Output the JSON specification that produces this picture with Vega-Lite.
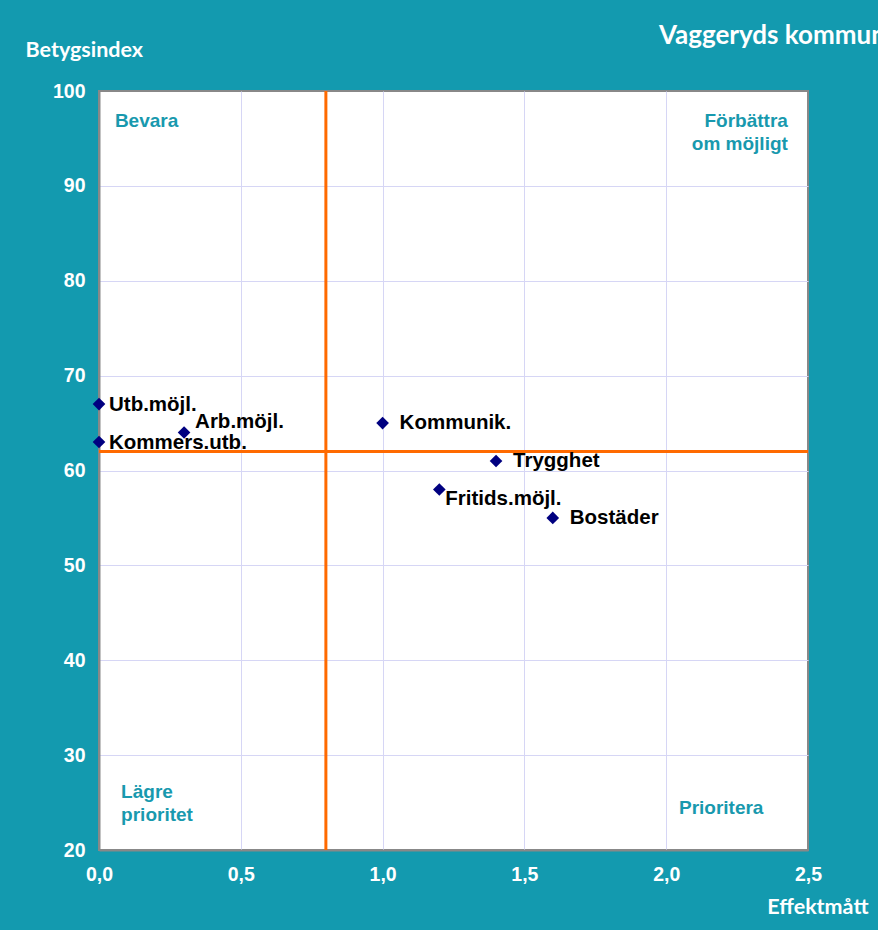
{
  "$schema": "https://vega.github.io/schema/vega-lite/v6.json",
  "width": 709,
  "height": 759,
  "autosize": {"type": "none"},
  "padding": {"left": 99, "top": 91, "right": 70, "bottom": 80},
  "background": "#139AAF",
  "title": {
    "text": "Vaggeryds kommun",
    "anchor": "start",
    "frame": "group",
    "dx": 560,
    "dy": 26,
    "offset": -5,
    "baseline": "alphabetic",
    "font": "Lato",
    "fontSize": 26,
    "fontWeight": "bold",
    "color": "white"
  },
  "config": {
    "view": {"fill": "white", "stroke": "#888888", "strokeWidth": 2},
    "axis": {
      "labelFont": "Liberation Sans",
      "labelFontSize": 19.5,
      "labelFontWeight": "bold",
      "labelColor": "white",
      "titleFont": "Lato",
      "titleFontSize": 21.5,
      "titleFontWeight": "bold",
      "titleColor": "white",
      "ticks": false,
      "domainColor": "#888888",
      "domainWidth": 2,
      "gridWidth": 1,
      "labelFlush": false,
      "labelOverlap": false
    }
  },
  "datasets": {
    "points": [
      {"name": "Utb.möjl.", "effekt": 0.0, "index": 67},
      {"name": "Kommers.utb.", "effekt": 0.0, "index": 63},
      {"name": "Arb.möjl.", "effekt": 0.3, "index": 64},
      {"name": "Kommunik.", "effekt": 1.0, "index": 65},
      {"name": "Trygghet", "effekt": 1.4, "index": 61},
      {"name": "Fritids.möjl.", "effekt": 1.2, "index": 58},
      {"name": "Bostäder", "effekt": 1.6, "index": 55}
    ],
    "quadLeft": [
      {"label": "Bevara", "effekt": 0.056, "index": 96.8},
      {"label": "Lägre\nprioritet", "effekt": 0.078, "index": 26.1},
      {"label": "Prioritera", "effekt": 2.045, "index": 24.4}
    ],
    "quadRight": [
      {"label": "Förbättra\nom möjligt", "effekt": 2.429, "index": 96.8}
    ]
  },
  "layer": [
    {
      "data": {"name": "points"},
      "mark": {"type": "point", "opacity": 0},
      "encoding": {
        "x": {
          "field": "effekt",
          "type": "quantitative",
          "scale": {"domain": [0, 2.5], "nice": false, "zero": false},
          "axis": {
            "values": [0, 0.5, 1, 1.5, 2, 2.5],
            "labelExpr": "replace(format(datum.value, '.1f'), '.', ',')",
            "labelBaseline": "middle",
            "labelPadding": 24,
            "gridColor": {"condition": {"test": "datum.value == 2.5 || datum.value == 0", "value": "transparent"}, "value": "#D6D6F5"},
            "title": "Effektmått",
            "titleAlign": "right",
            "titleAnchor": "start",
            "titleX": 769,
            "titleY": 57,
            "titleBaseline": "middle"
          }
        },
        "y": {
          "field": "index",
          "type": "quantitative",
          "scale": {"domain": [20, 100], "nice": false, "zero": false},
          "axis": {
            "values": [20, 30, 40, 50, 60, 70, 80, 90, 100],
            "labelPadding": 14,
            "gridColor": {"condition": {"test": "datum.value == 100 || datum.value == 20", "value": "transparent"}, "value": "#D6D6F5"},
            "title": "Betygsindex",
            "titleAngle": 0,
            "titleAlign": "left",
            "titleAnchor": "start",
            "titleX": -74,
            "titleY": -41,
            "titleBaseline": "middle"
          }
        }
      }
    },
    {
      "data": {"values": [{"v": 0.8}]},
      "mark": {"type": "rule", "color": "#FF6A00", "strokeWidth": 3},
      "encoding": {"x": {"field": "v", "type": "quantitative"}}
    },
    {
      "data": {"values": [{"v": 62}]},
      "mark": {"type": "rule", "color": "#FF6A00", "strokeWidth": 3},
      "encoding": {"y": {"field": "v", "type": "quantitative"}}
    },
    {
      "data": {"name": "points"},
      "mark": {"type": "point", "shape": "diamond", "filled": true, "color": "#000080", "size": 160, "opacity": 1},
      "encoding": {
        "x": {"field": "effekt", "type": "quantitative"},
        "y": {"field": "index", "type": "quantitative"}
      }
    },
    {
      "data": {"name": "points"},
      "transform": [{"filter": {"field": "name", "oneOf": ["Utb.möjl.", "Kommers.utb."]}}],
      "mark": {"type": "text", "align": "left", "baseline": "middle", "dx": 10, "dy": 1, "font": "Liberation Sans", "fontSize": 20.5, "fontWeight": "bold", "color": "black"},
      "encoding": {
        "x": {"field": "effekt", "type": "quantitative"},
        "y": {"field": "index", "type": "quantitative"},
        "text": {"field": "name"}
      }
    },
    {
      "data": {"name": "points"},
      "transform": [{"filter": {"field": "name", "oneOf": ["Arb.möjl."]}}],
      "mark": {"type": "text", "align": "left", "baseline": "middle", "dx": 11, "dy": -11, "font": "Liberation Sans", "fontSize": 20.5, "fontWeight": "bold", "color": "black"},
      "encoding": {
        "x": {"field": "effekt", "type": "quantitative"},
        "y": {"field": "index", "type": "quantitative"},
        "text": {"field": "name"}
      }
    },
    {
      "data": {"name": "points"},
      "transform": [{"filter": {"field": "name", "oneOf": ["Kommunik.", "Trygghet", "Bostäder"]}}],
      "mark": {"type": "text", "align": "left", "baseline": "middle", "dx": 17, "dy": 0, "font": "Liberation Sans", "fontSize": 20.5, "fontWeight": "bold", "color": "black"},
      "encoding": {
        "x": {"field": "effekt", "type": "quantitative"},
        "y": {"field": "index", "type": "quantitative"},
        "text": {"field": "name"}
      }
    },
    {
      "data": {"name": "points"},
      "transform": [{"filter": {"field": "name", "oneOf": ["Fritids.möjl."]}}],
      "mark": {"type": "text", "align": "left", "baseline": "middle", "dx": 6, "dy": 10, "font": "Liberation Sans", "fontSize": 20.5, "fontWeight": "bold", "color": "black"},
      "encoding": {
        "x": {"field": "effekt", "type": "quantitative"},
        "y": {"field": "index", "type": "quantitative"},
        "text": {"field": "name"}
      }
    },
    {
      "data": {"name": "quadLeft"},
      "mark": {"type": "text", "align": "left", "baseline": "middle", "lineBreak": "\n", "lineHeight": 23, "font": "Liberation Sans", "fontSize": 19, "fontWeight": "bold", "color": "#1899AE"},
      "encoding": {
        "x": {"field": "effekt", "type": "quantitative"},
        "y": {"field": "index", "type": "quantitative"},
        "text": {"field": "label"}
      }
    },
    {
      "data": {"name": "quadRight"},
      "mark": {"type": "text", "align": "right", "baseline": "middle", "lineBreak": "\n", "lineHeight": 23, "font": "Liberation Sans", "fontSize": 19, "fontWeight": "bold", "color": "#1899AE"},
      "encoding": {
        "x": {"field": "effekt", "type": "quantitative"},
        "y": {"field": "index", "type": "quantitative"},
        "text": {"field": "label"}
      }
    }
  ]
}
